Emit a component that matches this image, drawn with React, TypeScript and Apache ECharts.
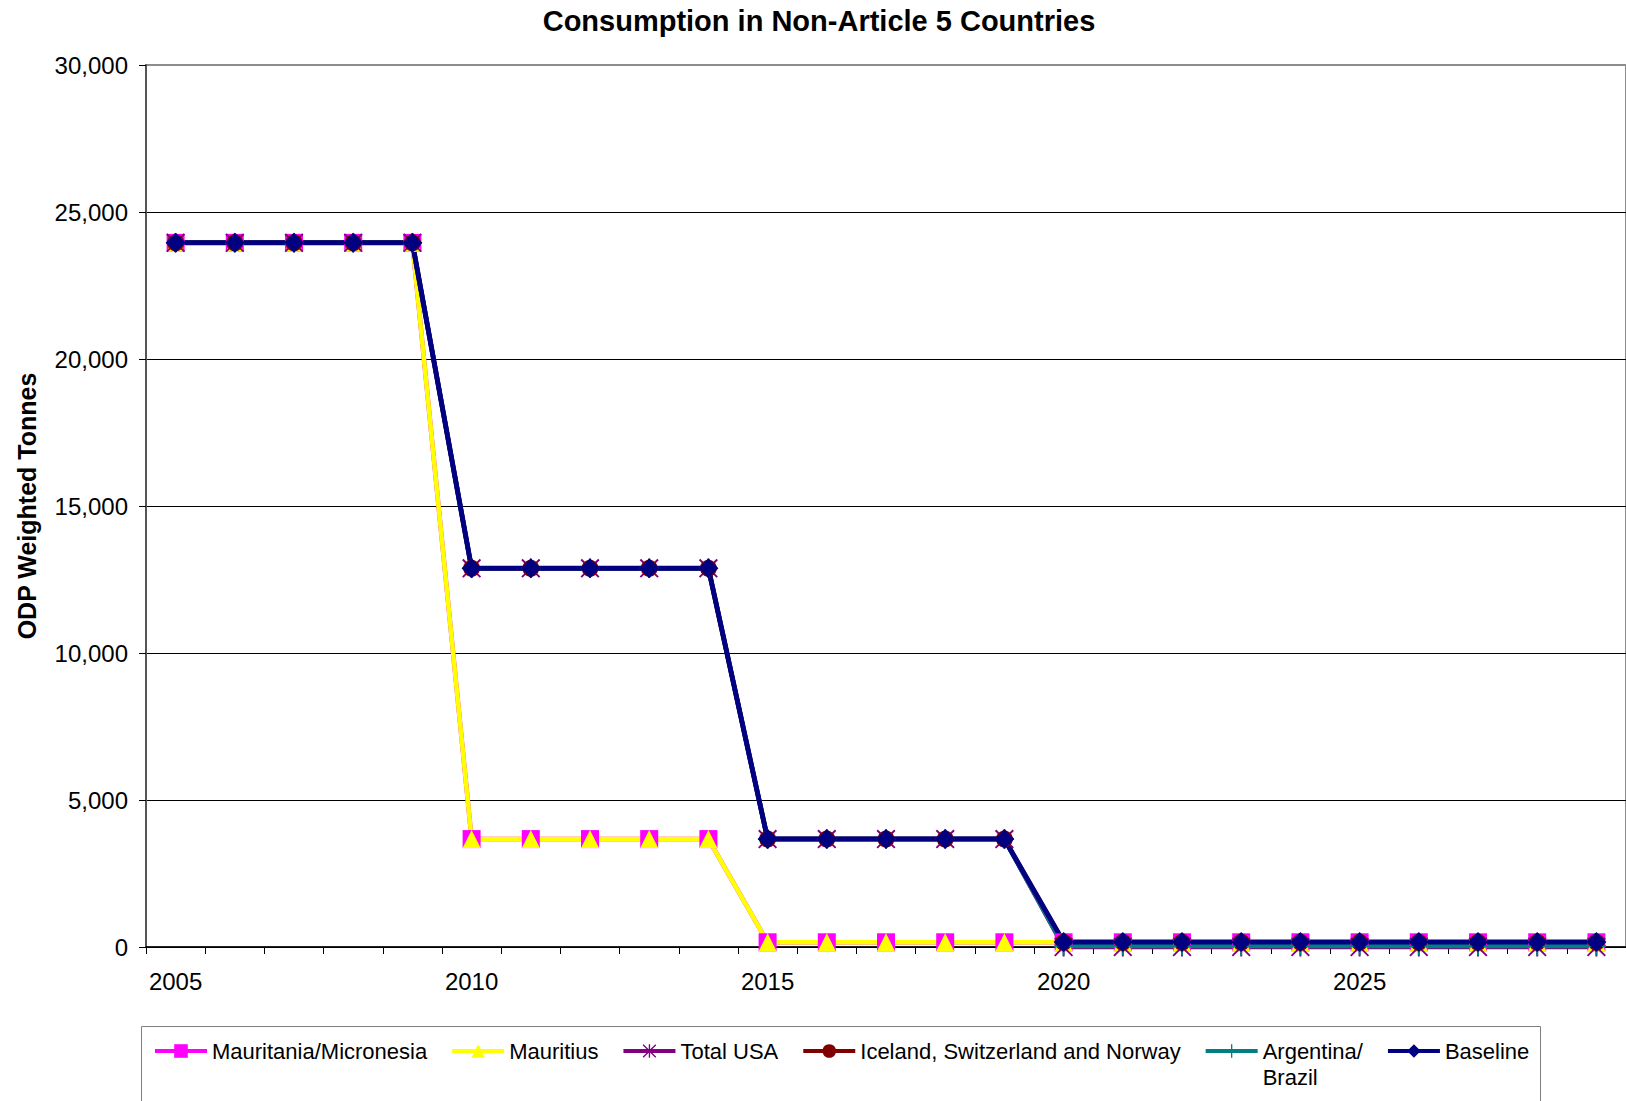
import React, { useEffect, useRef } from 'react';
import * as echarts from 'echarts';

// Years on the category axis
const years = [
  '2005', '2006', '2007', '2008', '2009',
  '2010', '2011', '2012', '2013', '2014',
  '2015', '2016', '2017', '2018', '2019',
  '2020', '2021', '2022', '2023', '2024',
  '2025', '2026', '2027', '2028', '2029',
];

// ODP weighted tonnes per scenario
const mauritaniaMicronesia = [
  23950, 23950, 23950, 23950, 23950,
  3670, 3670, 3670, 3670, 3670,
  160, 160, 160, 160, 160,
  160, 160, 160, 160, 160,
  160, 160, 160, 160, 160,
];
const mauritius = [
  23950, 23950, 23950, 23950, 23950,
  3670, 3670, 3670, 3670, 3670,
  160, 160, 160, 160, 160,
  160, 160, 160, 160, 160,
  160, 160, 160, 160, 160,
];
const totalUSA = [
  23950, 23950, 23950, 23950, 23950,
  12880, 12880, 12880, 12880, 12880,
  3670, 3670, 3670, 3670, 3670,
  0, 0, 0, 0, 0,
  0, 0, 0, 0, 0,
];
const icelandSwitzerlandNorway = [
  23950, 23950, 23950, 23950, 23950,
  12880, 12880, 12880, 12880, 12880,
  3670, 3670, 3670, 3670, 3670,
  160, 160, 160, 160, 160,
  160, 160, 160, 160, 160,
];
const argentinaBrazil = [
  23950, 23950, 23950, 23950, 23950,
  12880, 12880, 12880, 12880, 12880,
  3670, 3670, 3670, 3670, 3670,
  30, 30, 30, 30, 30,
  30, 30, 30, 30, 30,
];
const baseline = [
  23950, 23950, 23950, 23950, 23950,
  12880, 12880, 12880, 12880, 12880,
  3670, 3670, 3670, 3670, 3670,
  170, 170, 170, 170, 170,
  170, 170, 170, 170, 170,
];

const FONT = '"Liberation Sans", Arial, sans-serif';

// Six-armed asterisk and plus markers built from thin bars
const ASTERISK =
  'path://M9,0 L11,0 L11,20 L9,20 Z M0,1.4 L1.4,0 L20,18.6 L18.6,20 Z M18.6,0 L20,1.4 L1.4,20 L0,18.6 Z';
const PLUS = 'path://M9,0 L11,0 L11,20 L9,20 Z M0,9 L20,9 L20,11 L0,11 Z';

function makeSeries(
  name: string,
  data: number[],
  color: string,
  symbol: string,
  symbolSize: number,
  width: number
) {
  return {
    name,
    type: 'line',
    data,
    symbol,
    symbolSize,
    showSymbol: true,
    clip: false,
    lineStyle: { color, width },
    itemStyle: { color, borderWidth: 0 },
    emphasis: { disabled: true },
  };
}

export default function App() {
  const ref = useRef<HTMLDivElement>(null);

  useEffect(() => {
    if (!ref.current) return;
    const chart = echarts.init(ref.current, null, { renderer: 'svg' });

    chart.setOption({
      animation: false,
      backgroundColor: '#ffffff',
      textStyle: { fontFamily: FONT, color: '#000' },
      grid: {
        left: 146,
        top: 65,
        bottom: 154,
        right: -8,
        show: true,
        borderColor: '#8c8c8c',
        borderWidth: 2,
        backgroundColor: 'transparent',
      },
      graphic: [
        {
          type: 'text',
          x: 819,
          y: 21,
          style: {
            text: 'Consumption in Non-Article 5 Countries',
            font: `bold 29px ${FONT}`,
            fill: '#000',
            textAlign: 'center',
            textVerticalAlign: 'middle',
          },
        },
        {
          type: 'text',
          x: 27,
          y: 506,
          rotation: Math.PI / 2,
          style: {
            text: 'ODP Weighted Tonnes',
            font: `bold 25px ${FONT}`,
            fill: '#000',
            textAlign: 'center',
            textVerticalAlign: 'middle',
          },
        },
        {
          type: 'rect',
          shape: { x: 141.5, y: 1026.5, width: 1399, height: 100 },
          style: { fill: 'none', stroke: '#7f7f7f', lineWidth: 1 },
          z: 0,
        },
      ],
      legend: {
        left: 153,
        top: 1012,
        itemWidth: 52,
        itemHeight: 17,
        itemGap: 23,
        padding: 0,
        lineStyle: { width: 4 },
        textStyle: { fontFamily: FONT, fontSize: 22, color: '#000', lineHeight: 26 },
        // The two-line label gets a blank first line so that "Argentina/" sits level with the icon
        formatter: (name: string) =>
          name === 'Argentina/ Brazil' ? ' \nArgentina/\nBrazil' : name,
        data: [
          'Mauritania/Micronesia',
          'Mauritius',
          'Total USA',
          'Iceland, Switzerland and Norway',
          'Argentina/ Brazil',
          'Baseline',
        ],
        selectedMode: false,
      },
      xAxis: {
        type: 'category',
        data: years,
        boundaryGap: true,
        axisLine: { lineStyle: { color: '#000', width: 1.5 } },
        axisTick: {
          show: true,
          interval: 0,
          alignWithLabel: false,
          length: 7,
          lineStyle: { color: '#000', width: 1 },
        },
        axisLabel: {
          interval: 4,
          fontSize: 24,
          fontFamily: FONT,
          color: '#000',
          margin: 22,
        },
        splitLine: { show: false },
      },
      yAxis: {
        type: 'value',
        min: 0,
        max: 30000,
        interval: 5000,
        axisLine: { show: true, lineStyle: { color: '#555', width: 2 } },
        axisTick: { show: true, length: 7, lineStyle: { color: '#000', width: 1 } },
        axisLabel: {
          fontSize: 24,
          fontFamily: FONT,
          color: '#000',
          margin: 18,
        },
        splitLine: {
          show: true,
          lineStyle: {
            color: ['#000', '#000', '#000', '#000', '#000', '#000', '#8c8c8c'],
            width: 1,
          },
        },
      },
      series: [
        makeSeries('Mauritania/Micronesia', mauritaniaMicronesia, '#ff00ff', 'rect', 18, 4.5),
        makeSeries('Mauritius', mauritius, '#ffff00', 'triangle', 18, 4.5),
        makeSeries('Total USA', totalUSA, '#800080', ASTERISK, 19, 4.5),
        makeSeries('Iceland, Switzerland and Norway', icelandSwitzerlandNorway, '#800000', 'circle', 17, 4.5),
        makeSeries('Argentina/ Brazil', argentinaBrazil, '#008080', PLUS, 19, 4.5),
        makeSeries('Baseline', baseline, '#000080', 'diamond', 20, 5),
      ],
    });

    return () => chart.dispose();
  }, []);

  return (
    <div
      ref={ref}
      style={{ position: 'absolute', left: 0, top: 0, width: 1626, height: 1101 }}
    />
  );
}
